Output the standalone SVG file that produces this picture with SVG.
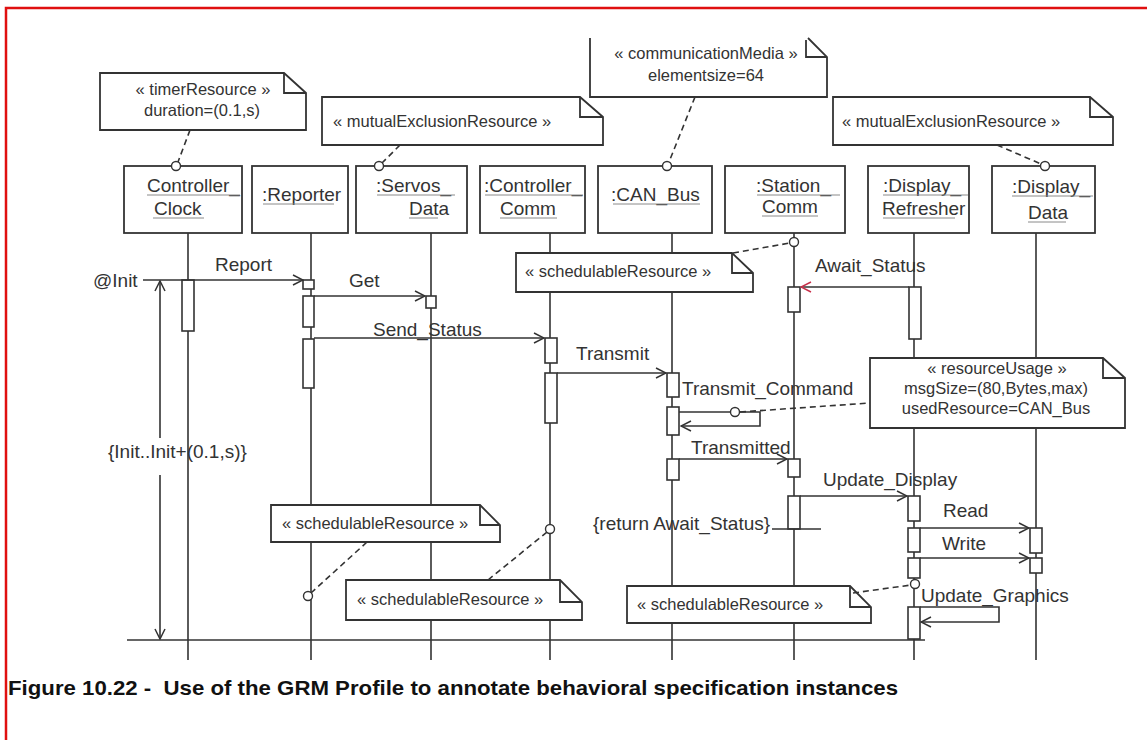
<svg xmlns="http://www.w3.org/2000/svg" width="1147" height="740" viewBox="0 0 1147 740">
  <defs>
    <style>
      .box { fill: #fff; stroke: #333; stroke-width: 1.8; }
      .life { stroke: #333; stroke-width: 1.6; fill: none; }
      .act { fill: #fff; stroke: #333; stroke-width: 1.6; }
      .msg { stroke: #333; stroke-width: 1.6; fill: none; }
      .note { fill: #fff; stroke: #333; stroke-width: 1.8; }
      .fold { fill: none; stroke: #333; stroke-width: 1.8; }
      .link { stroke: #333; stroke-width: 1.6; stroke-dasharray: 6 4; fill: none; }
      .pin { fill: #fff; stroke: #333; stroke-width: 1.4; }
      .ul { stroke: #8a8a8a; stroke-width: 1; }
      .lbl { font-family: "Liberation Sans", Arial, sans-serif; font-size: 19px; fill: #333; }
      .ntxt { font-family: "Liberation Sans", Arial, sans-serif; font-size: 16.5px; fill: #333; }
      .cap { font-family: "Liberation Sans Narrow", "Liberation Sans", Arial, sans-serif; font-size: 21px; font-weight: bold; fill: #111; white-space: pre; }
    </style>
    <marker id="open" viewBox="0 0 12 12" refX="11" refY="6" markerWidth="12" markerHeight="12" markerUnits="userSpaceOnUse" orient="auto">
      <path d="M1,1 L11,6 L1,11" fill="none" stroke="#333" stroke-width="1.5"/>
    </marker>
    <marker id="open-red" viewBox="0 0 12 12" refX="11" refY="6" markerWidth="12" markerHeight="12" markerUnits="userSpaceOnUse" orient="auto">
      <path d="M1,1 L11,6 L1,11" fill="none" stroke="#c8304a" stroke-width="1.5"/>
    </marker>
  </defs>

  <rect x="0" y="0" width="1147" height="740" fill="#fff"/>

  <!-- page frame -->
  <path d="M6,740 V8 H1147" fill="none" stroke="#e01010" stroke-width="2.5"/>

  <!-- lifeline objects -->
  <g id="controller-clock">
    <line class="life" x1="188" y1="233" x2="188" y2="660"/>
    <rect class="box" x="124" y="166" width="118" height="67"/>
    <text class="lbl" x="147" y="192">Controller_</text>
    <text class="lbl" x="154" y="215">Clock</text>
    <line class="ul" x1="147" y1="195" x2="240" y2="195"/>
    <line class="ul" x1="153" y1="218" x2="204" y2="218"/>
    <rect class="act" x="182" y="280" width="12" height="51"/>
  </g>

  <g id="reporter">
    <line class="life" x1="311" y1="233" x2="311" y2="660"/>
    <rect class="box" x="252" y="166" width="96" height="67"/>
    <text class="lbl" x="262" y="201">:Reporter</text>
    <line class="ul" x1="263" y1="204" x2="334" y2="204"/>
    <rect class="act" x="303" y="280" width="11" height="9"/>
    <rect class="act" x="303" y="296" width="11" height="31"/>
    <rect class="act" x="303" y="339" width="11" height="49"/>
  </g>

  <g id="servos-data">
    <line class="life" x1="431" y1="233" x2="431" y2="660"/>
    <rect class="box" x="356" y="166" width="111" height="67"/>
    <text class="lbl" x="376" y="192">:Servos_</text>
    <text class="lbl" x="409" y="215">Data</text>
    <line class="ul" x1="377" y1="195" x2="455" y2="195"/>
    <line class="ul" x1="409" y1="218" x2="438" y2="218"/>
    <rect class="act" x="426" y="296" width="10" height="12"/>
  </g>

  <g id="controller-comm">
    <line class="life" x1="550" y1="233" x2="550" y2="660"/>
    <rect class="box" x="480" y="166" width="105" height="67"/>
    <text class="lbl" x="484" y="192">:Controller_</text>
    <text class="lbl" x="500" y="215">Comm</text>
    <line class="ul" x1="485" y1="195" x2="583" y2="195"/>
    <line class="ul" x1="500" y1="218" x2="557" y2="218"/>
    <rect class="act" x="545" y="338" width="12" height="25"/>
    <rect class="act" x="545" y="373" width="12" height="50"/>
  </g>

  <g id="can-bus">
    <line class="life" x1="672" y1="233" x2="672" y2="660"/>
    <rect class="box" x="598" y="166" width="114" height="67"/>
    <text class="lbl" x="611" y="201">:CAN_Bus</text>
    <line class="ul" x1="613" y1="204" x2="700" y2="204"/>
    <rect class="act" x="667" y="373" width="12" height="24"/>
    <rect class="act" x="667" y="407" width="12" height="28"/>
    <rect class="act" x="667" y="459" width="12" height="21"/>
  </g>

  <g id="station-comm">
    <line class="life" x1="794" y1="233" x2="794" y2="660"/>
    <rect class="box" x="725" y="166" width="120" height="67"/>
    <text class="lbl" x="756" y="192">:Station_</text>
    <text class="lbl" x="762" y="213">Comm</text>
    <line class="ul" x1="757" y1="195" x2="840" y2="195"/>
    <line class="ul" x1="762" y1="216" x2="818" y2="216"/>
    <rect class="act" x="788" y="287" width="12" height="25"/>
    <rect class="act" x="788" y="459" width="12" height="18"/>
    <rect class="act" x="788" y="496" width="12" height="33"/>
  </g>

  <g id="display-refresher">
    <line class="life" x1="914" y1="233" x2="914" y2="660"/>
    <rect class="box" x="868" y="166" width="101" height="67"/>
    <text class="lbl" x="883" y="192">:Display_</text>
    <text class="lbl" x="882" y="215">Refresher</text>
    <line class="ul" x1="883" y1="195" x2="968" y2="195"/>
    <line class="ul" x1="883" y1="218" x2="955" y2="218"/>
    <rect class="act" x="909" y="287" width="12" height="52"/>
    <rect class="act" x="908" y="496" width="12" height="25"/>
    <rect class="act" x="908" y="528" width="12" height="24"/>
    <rect class="act" x="908" y="558" width="12" height="20"/>
    <rect class="act" x="908" y="607" width="12" height="32"/>
  </g>

  <g id="display-data">
    <line class="life" x1="1036" y1="233" x2="1036" y2="660"/>
    <rect class="box" x="992" y="166" width="103" height="67"/>
    <text class="lbl" x="1012" y="193">:Display_</text>
    <text class="lbl" x="1028" y="219">Data</text>
    <line class="ul" x1="1012" y1="196" x2="1093" y2="196"/>
    <line class="ul" x1="1028" y1="222" x2="1066" y2="222"/>
    <rect class="act" x="1030" y="528" width="12" height="25"/>
    <rect class="act" x="1030" y="558" width="12" height="15"/>
  </g>

  <!-- stereotype notes -->
  <g id="note-timer">
    <path class="note" d="M100,73 H284 L306,93 V130 H100 Z"/>
    <path class="fold" d="M284,73 V93 H306"/>
    <text class="ntxt" x="203" y="95" text-anchor="middle">« timerResource »</text>
    <text class="ntxt" x="202" y="116" text-anchor="middle">duration=(0.1,s)</text>
  </g>

  <g id="note-mutex-servos">
    <path class="note" d="M322,97 H580 L603,117 V145 H322 Z"/>
    <path class="fold" d="M580,97 V117 H603"/>
    <text class="ntxt" x="333" y="127">« mutualExclusionResource »</text>
  </g>

  <g id="note-comm-media">
    <path fill="#fff" d="M590,38 H808 L827,57 V97 H590 Z"/>
    <path class="fold" d="M590,38 V97 H827 V57 L808,38 M806,40 V57 H827"/>
    <text class="ntxt" x="706" y="59" text-anchor="middle">« communicationMedia »</text>
    <text class="ntxt" x="706" y="81" text-anchor="middle">elementsize=64</text>
  </g>

  <g id="note-mutex-display">
    <path class="note" d="M833,97 H1090 L1113,117 V145 H833 Z"/>
    <path class="fold" d="M1090,97 V117 H1113"/>
    <text class="ntxt" x="842" y="127">« mutualExclusionResource »</text>
  </g>

  <g id="note-sched-station">
    <path class="note" d="M516,253 H732 L753,273 V292 H516 Z"/>
    <path class="fold" d="M732,253 V273 H753"/>
    <text class="ntxt" x="525" y="277">« schedulableResource »</text>
  </g>

  <g id="note-resource-usage">
    <path class="note" d="M870,358 H1103 L1125,378 V428 H870 Z"/>
    <path class="fold" d="M1103,358 V378 H1125"/>
    <text class="ntxt" x="997" y="374" text-anchor="middle">« resourceUsage »</text>
    <text class="ntxt" x="996" y="394" text-anchor="middle">msgSize=(80,Bytes,max)</text>
    <text class="ntxt" x="996" y="414" text-anchor="middle">usedResource=CAN_Bus</text>
  </g>

  <g id="note-sched-reporter">
    <path class="note" d="M271,505 H480 L500,525 V542 H271 Z"/>
    <path class="fold" d="M480,505 V525 H500"/>
    <text class="ntxt" x="282" y="529">« schedulableResource »</text>
  </g>

  <g id="note-sched-controller">
    <path class="note" d="M346,580 H560 L582,602 V620 H346 Z"/>
    <path class="fold" d="M560,580 V602 H582"/>
    <text class="ntxt" x="357" y="605">« schedulableResource »</text>
  </g>

  <g id="note-sched-refresher">
    <path class="note" d="M627,586 H850 L871,607 V623 H627 Z"/>
    <path class="fold" d="M850,586 V607 H871"/>
    <text class="ntxt" x="637" y="610">« schedulableResource »</text>
  </g>

  <!-- messages, timing constraint and note anchors -->
  <g id="connectors">
    <!-- note anchors -->
    <line class="link" x1="190" y1="130" x2="178" y2="162"/>
    <circle class="pin" cx="176" cy="166" r="4.5"/>
    <line class="link" x1="400" y1="145" x2="382" y2="163"/>
    <circle class="pin" cx="379" cy="166" r="4.5"/>
    <line class="link" x1="695" y1="97" x2="669" y2="162"/>
    <circle class="pin" cx="667" cy="166" r="4.5"/>
    <line class="link" x1="997" y1="145" x2="1041" y2="164"/>
    <circle class="pin" cx="1045" cy="166" r="4.5"/>
    <line class="link" x1="733" y1="253" x2="790" y2="243"/>
    <circle class="pin" cx="794" cy="242" r="4.5"/>
    <line class="link" x1="740" y1="412" x2="870" y2="403"/>
    <line class="link" x1="367" y1="542" x2="311" y2="593"/>
    <circle class="pin" cx="308" cy="596" r="4.5"/>
    <line class="link" x1="488" y1="580" x2="547" y2="532"/>
    <circle class="pin" cx="550" cy="529" r="4.5"/>
    <line class="link" x1="853" y1="593" x2="911" y2="585"/>
    <circle class="pin" cx="915" cy="584" r="4.5"/>

    <!-- time axis and constraint -->
    <line class="msg" x1="127" y1="640" x2="925" y2="640"/>
    <line class="msg" x1="160" y1="438" x2="160" y2="281" marker-end="url(#open)"/>
    <line class="msg" x1="160" y1="475" x2="160" y2="639" marker-end="url(#open)"/>

    <!-- messages -->
    <line class="msg" x1="143" y1="280" x2="303" y2="280" marker-end="url(#open)"/>
    <line class="msg" x1="314" y1="296" x2="425" y2="296" marker-end="url(#open)"/>
    <line class="msg" x1="314" y1="338" x2="544" y2="338" marker-end="url(#open)"/>
    <line class="msg" x1="557" y1="373" x2="666" y2="373" marker-end="url(#open)"/>
    <path class="msg" d="M679,412 H760 V426 H681" marker-end="url(#open)"/>
    <circle class="pin" cx="735" cy="412" r="4.5"/>
    <line class="msg" x1="679" y1="459" x2="787" y2="459" marker-end="url(#open)"/>
    <line class="msg" x1="909" y1="287" x2="801" y2="287" marker-end="url(#open-red)"/>
    <line class="msg" x1="800" y1="496" x2="907" y2="496" marker-end="url(#open)"/>
    <line class="msg" x1="772" y1="529" x2="821" y2="529"/>
    <line class="msg" x1="920" y1="528" x2="1029" y2="528" marker-end="url(#open)"/>
    <line class="msg" x1="920" y1="558" x2="1029" y2="558" marker-end="url(#open)"/>
    <path class="msg" d="M920,607 H999 V622 H921" marker-end="url(#open)"/>

    <!-- labels -->
    <text class="lbl" x="93" y="287">@Init</text>
    <text class="lbl" x="108" y="458">{Init..Init+(0.1,s)}</text>
    <text class="lbl" x="215" y="271">Report</text>
    <text class="lbl" x="349" y="287">Get</text>
    <text class="lbl" x="373" y="336">Send_Status</text>
    <text class="lbl" x="576" y="360">Transmit</text>
    <text class="lbl" x="682" y="395">Transmit_Command</text>
    <text class="lbl" x="691" y="454">Transmitted</text>
    <text class="lbl" x="815" y="272">Await_Status</text>
    <text class="lbl" x="823" y="486">Update_Display</text>
    <text class="lbl" x="593" y="530">{return Await_Status}</text>
    <text class="lbl" x="943" y="517">Read</text>
    <text class="lbl" x="942" y="550">Write</text>
    <text class="lbl" x="921" y="602">Update_Graphics</text>
  </g>

  <text class="cap" x="8" y="695" textLength="890" lengthAdjust="spacingAndGlyphs">Figure 10.22 -  Use of the GRM Profile to annotate behavioral specification instances</text>
</svg>
